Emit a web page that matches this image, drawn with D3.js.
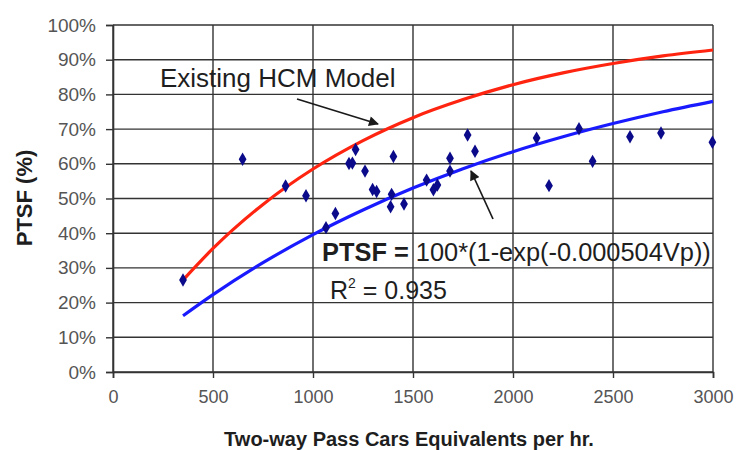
<!DOCTYPE html>
<html>
<head>
<meta charset="utf-8">
<script src="https://cdn.jsdelivr.net/npm/d3@7/dist/d3.min.js"></script>
<style>
  html, body { margin: 0; padding: 0; background: #fff; }
  svg { display: block; }
  text { font-family: "Liberation Sans", Arial, sans-serif; }
</style>
</head>
<body>
<svg id="chart" width="737" height="450"></svg>
<script>
// ---- data ----
const xTickValues = [0, 500, 1000, 1500, 2000, 2500, 3000];
const yTickValues = [0, 10, 20, 30, 40, 50, 60, 70, 80, 90, 100];

// observed PTSF points (Vp, PTSF %)
const obsVp   = [350, 648, 863, 965, 1065, 1112, 1180, 1197, 1213, 1260, 1298, 1318, 1388, 1393, 1402, 1455, 1568, 1602, 1622, 1685, 1685, 1773, 1810, 2118, 2180, 2330, 2398, 2585, 2740, 2997];
const obsPtsf = [26.5, 61.3, 53.6, 50.8, 41.6, 45.7, 60.1, 60.2, 64.1, 57.9, 52.6, 52.0, 47.6, 51.2, 62.1, 48.4, 55.3, 52.5, 53.9, 61.6, 57.9, 68.3, 63.6, 67.4, 53.7, 70.1, 60.7, 67.8, 68.9, 66.2];

// existing HCM model curve (red)
const hcmVp   = [350, 500, 750, 1000, 1250, 1500, 1750, 2000, 2250, 2500, 2750, 3000];
const hcmPtsf = [26.5, 35.6, 48.3, 58.5, 66.7, 73.3, 78.5, 82.8, 86.2, 88.9, 91.1, 92.8];

// fitted curve (blue)
const fitVp   = [350, 500, 750, 1000, 1250, 1500, 1750, 2000, 2250, 2500, 2750, 3000];
const fitPtsf = [16.2, 22.3, 31.5, 39.6, 46.7, 53.0, 58.6, 63.5, 67.8, 71.6, 75.0, 78.0];

const xTitle = "Two-way Pass Cars Equivalents per hr.";
const yTitle = "PTSF (%)";
const hcmLabel = "Existing HCM Model";
const fitLabel = "100*(1-exp(-0.000504Vp))";
const r2Value = "0.935";

// ---- chart ----
const svg = d3.select("#chart");
const x = d3.scaleLinear().domain([0, 3000]).range([113, 713]);
const y = d3.scaleLinear().domain([0, 100]).range([372, 25]);

const gridColor = "#333";

// gridlines
svg.append("g").selectAll("line.h").data(yTickValues).join("line")
  .attr("x1", x(0)).attr("x2", x(3000))
  .attr("y1", d => y(d)).attr("y2", d => y(d))
  .attr("stroke", gridColor).attr("stroke-width", 1.4);
svg.append("g").selectAll("line.v").data(xTickValues).join("line")
  .attr("x1", d => x(d)).attr("x2", d => x(d))
  .attr("y1", y(0)).attr("y2", y(100))
  .attr("stroke", gridColor).attr("stroke-width", 1.4);

// axes
const xAxis = d3.axisBottom(x).tickValues(xTickValues).tickSize(6).tickPadding(12).tickFormat(d3.format("d"));
const yAxis = d3.axisLeft(y).tickValues(yTickValues).tickSize(7).tickPadding(10).tickFormat(d => d + "%");

const gx = svg.append("g").attr("transform", `translate(0,${y(0)})`).call(xAxis);
const gy = svg.append("g").attr("transform", `translate(${x(0)},0)`).call(yAxis);
[gx, gy].forEach(g => {
  g.select(".domain").attr("stroke", gridColor).attr("stroke-width", 1.6);
  g.selectAll(".tick line").attr("stroke", gridColor).attr("stroke-width", 1.4);
  g.selectAll(".tick text").attr("fill", "#555").attr("font-size", 18)
    .attr("font-family", "'Liberation Sans', Arial, sans-serif");
});
gy.selectAll(".tick text").attr("font-size", 19);

// curves
const line = d3.line().x(d => x(d[0])).y(d => y(d[1])).curve(d3.curveMonotoneX);
svg.append("path").datum(hcmVp.map((v, i) => [v, hcmPtsf[i]]))
  .attr("d", line).attr("fill", "none").attr("stroke", "#ff2410").attr("stroke-width", 3.2);
svg.append("path").datum(fitVp.map((v, i) => [v, fitPtsf[i]]))
  .attr("d", line).attr("fill", "none").attr("stroke", "#1a1aff").attr("stroke-width", 3.2);

// points (diamonds)
svg.append("g").selectAll("path").data(obsVp.map((v, i) => [v, obsPtsf[i]])).join("path")
  .attr("d", d3.symbol().type(d3.symbolDiamond).size(52))
  .attr("transform", d => `translate(${x(d[0])},${y(d[1])})`)
  .attr("fill", "#0a0a8a");

// arrows
const defs = svg.append("defs");
defs.append("marker").attr("id", "arr").attr("viewBox", "0 0 10 10")
  .attr("refX", 9).attr("refY", 5)
  .attr("orient", "auto").attr("markerUnits", "userSpaceOnUse")
  .attr("markerWidth", 12).attr("markerHeight", 10)
  .append("path").attr("d", "M0,0 L10,5 L0,10 z").attr("fill", "#1a1a1a");

svg.append("line").attr("x1", 297).attr("y1", 99).attr("x2", 378).attr("y2", 124)
  .attr("stroke", "#1a1a1a").attr("stroke-width", 1.7).attr("marker-end", "url(#arr)");
svg.append("line").attr("x1", 493).attr("y1", 219).attr("x2", 471).attr("y2", 171)
  .attr("stroke", "#1a1a1a").attr("stroke-width", 1.7).attr("marker-end", "url(#arr)");

// annotation text
svg.append("text").attr("x", 160).attr("y", 87).attr("font-size", 26).attr("fill", "#1e1e1e")
  .text(hcmLabel);

const eq = svg.append("text").attr("x", 322).attr("y", 261).attr("font-size", 25.4).attr("fill", "#1e1e1e");
eq.append("tspan").attr("font-weight", "bold").text("PTSF = ");
eq.append("tspan").text(fitLabel);

const r2 = svg.append("text").attr("x", 330).attr("y", 299).attr("font-size", 25).attr("fill", "#1e1e1e");
r2.append("tspan").text("R");
r2.append("tspan").attr("font-size", 14).attr("dy", -11).text("2");
r2.append("tspan").attr("dy", 11).text(" = " + r2Value);

// axis titles
svg.append("text").attr("x", 409).attr("y", 446).attr("text-anchor", "middle")
  .attr("font-size", 20).attr("font-weight", "bold").attr("fill", "#1e1e1e").text(xTitle);
svg.append("text").attr("transform", "translate(32,198) rotate(-90)").attr("text-anchor", "middle")
  .attr("font-size", 22).attr("font-weight", "bold").attr("fill", "#1e1e1e").text(yTitle);
</script>
</body>
</html>
